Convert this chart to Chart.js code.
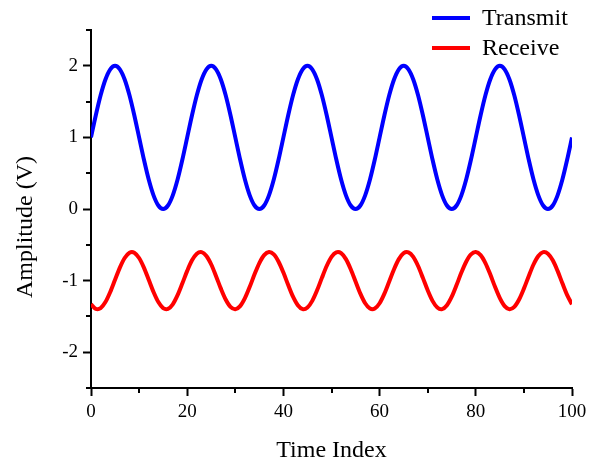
<!DOCTYPE html>
<html>
<head>
<meta charset="utf-8">
<script src="https://cdn.jsdelivr.net/npm/chart.js@4/dist/chart.umd.min.js"></script>
<style>
  html, body { margin: 0; padding: 0; background: #fff; }
  #wrap { width: 589px; height: 463px; position: relative; }
</style>
</head>
<body>
<div id="wrap"><canvas id="chart"></canvas></div>
<script>
const timeIndex = [
  0, 1, 2, 3, 4, 5, 6, 7, 8, 9, 10, 11, 12, 13, 14, 15, 16, 17, 18, 19,
  20, 21, 22, 23, 24, 25, 26, 27, 28, 29, 30, 31, 32, 33, 34, 35, 36, 37, 38, 39,
  40, 41, 42, 43, 44, 45, 46, 47, 48, 49, 50, 51, 52, 53, 54, 55, 56, 57, 58, 59,
  60, 61, 62, 63, 64, 65, 66, 67, 68, 69, 70, 71, 72, 73, 74, 75, 76, 77, 78, 79,
  80, 81, 82, 83, 84, 85, 86, 87, 88, 89, 90, 91, 92, 93, 94, 95, 96, 97, 98, 99,
  100
];

const transmit = [
  1, 1.309, 1.588, 1.809, 1.951, 2, 1.951, 1.809, 1.588, 1.309, 1, 0.691, 0.412, 0.191, 0.049, 0, 0.049, 0.191, 0.412, 0.691,
  1, 1.309, 1.588, 1.809, 1.951, 2, 1.951, 1.809, 1.588, 1.309, 1, 0.691, 0.412, 0.191, 0.049, 0, 0.049, 0.191, 0.412, 0.691,
  1, 1.309, 1.588, 1.809, 1.951, 2, 1.951, 1.809, 1.588, 1.309, 1, 0.691, 0.412, 0.191, 0.049, 0, 0.049, 0.191, 0.412, 0.691,
  1, 1.309, 1.588, 1.809, 1.951, 2, 1.951, 1.809, 1.588, 1.309, 1, 0.691, 0.412, 0.191, 0.049, 0, 0.049, 0.191, 0.412, 0.691,
  1, 1.309, 1.588, 1.809, 1.951, 2, 1.951, 1.809, 1.588, 1.309, 1, 0.691, 0.412, 0.191, 0.049, 0, 0.049, 0.191, 0.412, 0.691,
  1
];

const receive = [
  -1.331, -1.395, -1.384, -1.300, -1.159, -0.988, -0.818, -0.684, -0.610, -0.610,
  -0.684, -0.818, -0.988, -1.159, -1.300, -1.384, -1.395, -1.331, -1.204, -1.038,
  -0.864, -0.717, -0.624, -0.602, -0.656, -0.775, -0.938, -1.112, -1.264, -1.367,
  -1.400, -1.356, -1.245, -1.087, -0.913, -0.755, -0.644, -0.600, -0.633, -0.736,
  -0.888, -1.062, -1.225, -1.344, -1.398, -1.376, -1.283, -1.136, -0.962, -0.796,
  -0.669, -0.605, -0.616, -0.700, -0.841, -1.012, -1.182, -1.316, -1.390, -1.390,
  -1.316, -1.182, -1.012, -0.841, -0.700, -0.616, -0.605, -0.669, -0.796, -0.962,
  -1.136, -1.283, -1.376, -1.398, -1.344, -1.225, -1.062, -0.888, -0.736, -0.633,
  -0.600, -0.644, -0.755, -0.913, -1.087, -1.245, -1.356, -1.400, -1.367, -1.264,
  -1.112, -0.938, -0.775, -0.656, -0.602, -0.624, -0.717, -0.864, -1.038, -1.204,
  -1.331
];

const seriesNames = ['Transmit', 'Receive'];
const xTitle = 'Time Index';
const yTitle = 'Amplitude (V)';

const SERIF = '"Liberation Serif", "Times New Roman", serif';

// short minor ticks, axis titles and the stacked legend
const decorations = {
  id: 'decorations',
  afterDraw(chart) {
    const { ctx, chartArea: a, scales: { x, y } } = chart;
    ctx.save();
    ctx.strokeStyle = '#000';
    ctx.lineWidth = 2;
    ctx.beginPath();
    for (let v = 10; v < 100; v += 20) {
      const px = Math.round(x.getPixelForValue(v));
      ctx.moveTo(px, a.bottom);
      ctx.lineTo(px, a.bottom + 5);
    }
    for (let v = -2.5; v <= 2.5; v += 1) {
      const py = Math.round(y.getPixelForValue(v));
      ctx.moveTo(a.left, py);
      ctx.lineTo(a.left - 5, py);
    }
    ctx.stroke();

    ctx.fillStyle = '#000';
    ctx.font = '24px ' + SERIF;
    ctx.textAlign = 'center';
    ctx.textBaseline = 'alphabetic';
    ctx.fillText(xTitle, (a.left + a.right) / 2, 457);

    ctx.save();
    ctx.translate(32, 227);
    ctx.rotate(-Math.PI / 2);
    ctx.fillText(yTitle, 0, 0);
    ctx.restore();

    ctx.textAlign = 'left';
    chart.data.datasets.forEach((ds, i) => {
      const ly = 18 + i * 30;
      ctx.strokeStyle = ds.borderColor;
      ctx.lineWidth = 4;
      ctx.beginPath();
      ctx.moveTo(432, ly);
      ctx.lineTo(470, ly);
      ctx.stroke();
      ctx.fillStyle = '#000';
      ctx.fillText(ds.label, 482, ly + 7);
    });
    ctx.restore();
  }
};

new Chart(document.getElementById('chart'), {
  type: 'line',
  data: {
    labels: timeIndex,
    datasets: [
      { label: seriesNames[0], data: transmit, borderColor: '#0000ff', borderWidth: 4, pointRadius: 0, tension: 0.3, fill: false },
      { label: seriesNames[1], data: receive, borderColor: '#ff0000', borderWidth: 4, pointRadius: 0, tension: 0.3, fill: false }
    ]
  },
  options: {
    responsive: true,
    maintainAspectRatio: false,
    animation: false,
    layout: { padding: { top: 30, right: 17, left: 0, bottom: 0 } },
    plugins: {
      legend: { display: false },
      tooltip: { enabled: false }
    },
    scales: {
      x: {
        type: 'linear',
        min: 0,
        max: 100,
        afterFit: s => { s.height = 75; s.paddingLeft = 0; s.paddingRight = 0; },
        border: { display: true, color: '#000', width: 2 },
        grid: {
          drawOnChartArea: false,
          drawTicks: true,
          tickLength: 8,
          tickWidth: 2,
          tickColor: c => (c.tick && c.tick.value % 20 === 0 ? '#000' : 'rgba(0,0,0,0)')
        },
        ticks: {
          stepSize: 10,
          padding: 5,
          maxRotation: 0,
          color: '#000',
          font: { family: SERIF, size: 19 },
          callback: v => (v % 20 === 0 ? v : '')
        }
      },
      y: {
        min: -2.5,
        max: 2.5,
        afterFit: s => { s.width = 91; s.paddingTop = 0; s.paddingBottom = 0; },
        border: { display: true, color: '#000', width: 2 },
        grid: {
          drawOnChartArea: false,
          drawTicks: true,
          tickLength: 8,
          tickWidth: 2,
          tickColor: c => (c.tick && Number.isInteger(c.tick.value) ? '#000' : 'rgba(0,0,0,0)')
        },
        ticks: {
          stepSize: 0.5,
          padding: 5,
          color: '#000',
          font: { family: SERIF, size: 19 },
          callback: v => (Number.isInteger(v) ? v : '')
        }
      }
    }
  },
  plugins: [decorations]
});
</script>
</body>
</html>
